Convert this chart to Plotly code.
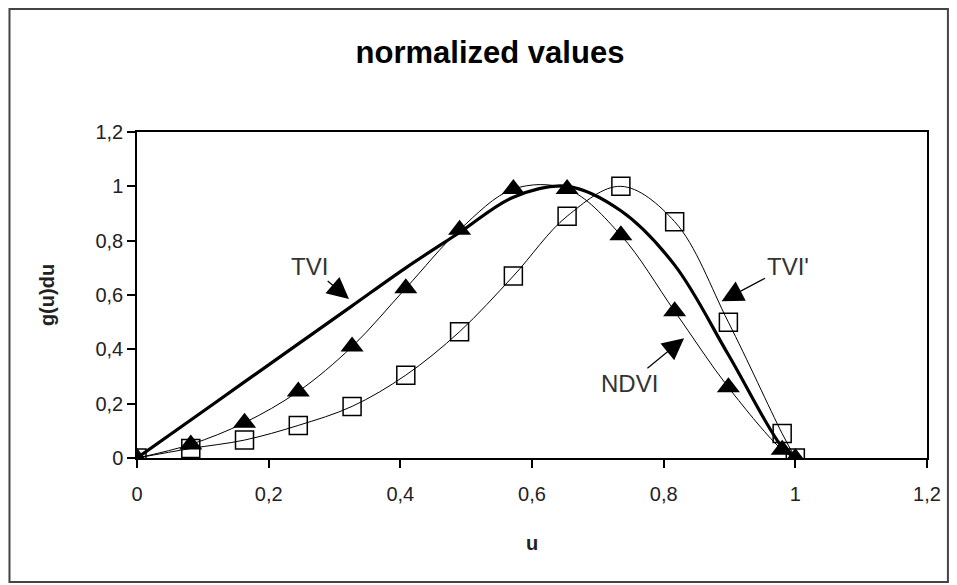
import plotly.graph_objects as go

# ---- data ----
u_vals = [0, 0.0817, 0.1633, 0.245, 0.3267, 0.4083, 0.49, 0.5717, 0.6533, 0.735, 0.8167, 0.8983, 0.98, 1.0]
tvi_vals = [0, 0.14, 0.28, 0.42, 0.56, 0.70, 0.83, 0.96, 1.0, 0.91, 0.71, 0.38, 0.04, 0]
ndvi_vals = [0, 0.05, 0.13, 0.245, 0.41, 0.625, 0.84, 0.99, 0.99, 0.82, 0.54, 0.26, 0.03, 0]
tvi_prime_vals = [0, 0.035, 0.066, 0.12, 0.19, 0.305, 0.465, 0.67, 0.89, 1.0, 0.87, 0.50, 0.09, 0]

x_ticks = [0, 0.2, 0.4, 0.6, 0.8, 1.0, 1.2]
y_ticks = [0, 0.2, 0.4, 0.6, 0.8, 1.0, 1.2]

title_text = "normalized values"
x_title = "u"
y_title = "g(u)du"

FONT = "Liberation Sans, Arial, sans-serif"

W, H = 945, 577
L, T = 129, 124
PW, PH = 793, 326

fig = go.Figure()

fig.add_trace(go.Scatter(
    x=u_vals, y=tvi_prime_vals, name="TVI'", mode="lines+markers",
    line=dict(color="black", width=1, shape="spline", smoothing=1),
    marker=dict(symbol="square-open", size=18, color="black", line=dict(width=1.5, color="black")),
))
fig.add_trace(go.Scatter(
    x=u_vals, y=ndvi_vals, name="NDVI", mode="lines+markers",
    line=dict(color="black", width=1, shape="spline", smoothing=1),
    marker=dict(symbol="triangle-up", size=20, color="black"),
))
fig.add_trace(go.Scatter(
    x=u_vals, y=tvi_vals, name="TVI", mode="lines",
    line=dict(color="black", width=3.2, shape="spline", smoothing=1),
))

ann_font = dict(family=FONT, size=24, color="#333333")
arrow_kw = dict(showarrow=True, arrowhead=2, arrowsize=3.6, arrowwidth=1.2,
                arrowcolor="black", standoff=0, font=ann_font, xref="x", yref="y")
fig.add_annotation(x=0.322, y=0.585, ax=-39, ay=-33, text="TVI", **arrow_kw)
fig.add_annotation(x=0.888, y=0.577, ax=66, ay=-35, text="TVI'", **arrow_kw)
fig.add_annotation(x=0.831, y=0.441, ax=-55, ay=45, text="NDVI", **arrow_kw)

# outer chart border (figure pixel coords converted to paper)
bx0, bx1, by0, by1 = 1, 943, 1, 574
fig.add_shape(type="rect", xref="paper", yref="paper",
              x0=(bx0 - L) / PW, x1=(bx1 - L) / PW,
              y0=(T + PH - by1) / PH, y1=(T + PH - by0) / PH,
              line=dict(color="#444444", width=2), layer="below")

fig.update_layout(
    width=W, height=H,
    margin=dict(l=L, r=W - L - PW, t=T, b=H - T - PH),
    paper_bgcolor="white", plot_bgcolor="white",
    separators=",.",
    showlegend=False,
    font=dict(family=FONT, size=20, color="#222222"),
    title=dict(text="<b>" + title_text + "</b>", x=482 / W, xanchor="center",
               y=1 - 44 / H, yanchor="middle", xref="container", yref="container",
               font=dict(family=FONT, size=31, color="black")),
    xaxis=dict(range=[0, 1.2], tickvals=x_ticks, showgrid=False, zeroline=False,
               showline=True, linecolor="black", linewidth=1.5, mirror=True,
               ticks="outside", ticklen=8, tickwidth=1.5, tickcolor="black",
               ticklabelstandoff=9,
               tickfont=dict(size=20, color="#222222"),
               title=dict(text="<b>" + x_title + "</b>", standoff=32,
                          font=dict(size=20, color="#222222"))),
    yaxis=dict(range=[0, 1.2], tickvals=y_ticks, showgrid=False, zeroline=False,
               showline=True, linecolor="black", linewidth=1.5, mirror=True,
               ticks="outside", ticklen=8, tickwidth=1.5, tickcolor="black",
               tickfont=dict(size=20, color="#222222"),
               title=dict(text="<b>" + y_title + "</b>", standoff=35,
                          font=dict(size=20, color="#222222"))),
)

fig.write_html("out.html")
